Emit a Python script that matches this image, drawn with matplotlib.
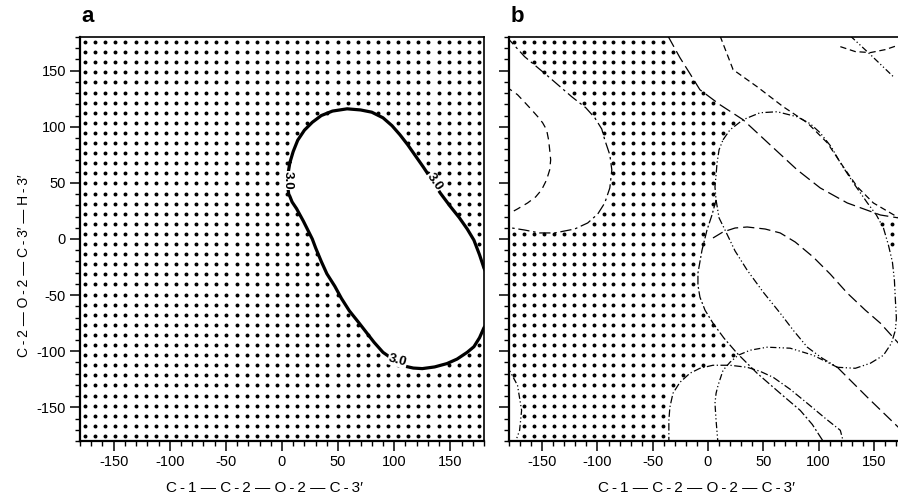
import numpy as np
import matplotlib
matplotlib.use('Agg')
import matplotlib.pyplot as plt
from matplotlib.path import Path
from matplotlib.ticker import MultipleLocator

plt.rcParams['font.family'] = ['Liberation Sans', 'DejaVu Sans']
plt.rcParams['axes.unicode_minus'] = False

# sampled torsion grid (9 degree step)
grid_vals = np.arange(-175.5, 180, 9.0)

# panel a: 3.0 contour
a_x = [7, 10, 14, 20, 27, 35, 45, 58, 70, 80, 90, 98, 105, 112, 119, 126, 134, 141, 150, 158, 165, 171,
       176, 180, 184, 195, 195, 184, 180, 176, 171, 165, 156, 147, 136, 125, 117, 108, 100, 90, 82, 75,
       68, 60, 53, 47, 40, 35, 30, 27, 25, 19, 13, 9, 7, 6, 5, 5, 6, 7]
a_y = [68, 78, 88, 97, 104, 110, 114, 116, 115, 113, 108, 101, 93, 84, 74, 64, 52, 41, 29, 19, 9, -1,
       -14, -26, -34, -40, -65, -74, -79, -88, -96, -101, -107, -111, -114, -115.5, -115, -113, -108, -101, -92, -83,
       -74, -64, -53, -42, -31, -20, -8, 0, 4, 16, 27, 33, 38, 40, 47, 56, 62, 68]
a_label_x = [5, 136, 103]
a_label_y = [52, 51, -108]
a_label_rot = [-90, -55, -15]

# panel b contours
b_outer_x = [-183, -165.9, -144.2, -123.3, -110.6, -102.4, -96.1, -93.4, -88.8, -87.0, -88.8, -93.4, -99.7,
             -108.8, -120.6, -138.7, -152.3, -165.9, -183]
b_outer_y = [181, 162.5, 144.6, 126.8, 117, 108, 98, 88.4, 75, 61.6, 45.5, 32.1, 22.3,
             14.3, 8.9, 5.4, 5.4, 8, 10.7]
b_inner_x = [-183, -172.3, -166, -159.6, -154, -149.6, -146, -144.2, -143.2, -142.3, -143.2, -146, -150.5,
             -155.9, -163.2, -172.3, -183]
b_inner_y = [136, 128.6, 122, 115.2, 109, 103.6, 97.3, 88.4, 79.5, 70.5, 61.6, 52.7, 43.8,
             37.5, 32.1, 26.8, 21]
b_diag1_x = [-36.3, -25.4, -16.3, -7.3, 10.9, 31.7, 56.2, 80.7, 101.5, 126, 155.9, 172.3, 185]
b_diag1_y = [181, 161.6, 147.3, 133, 119.6, 106.3, 83.9, 61.6, 45.5, 32.1, 21.4, 18.8, 17.5]
b_diag2_x = [10.9, 22.7, 44.4, 68, 89.8, 107.9, 122.4, 135.1, 149.6, 171.3, 185]
b_diag2_y = [181, 150.9, 135.7, 117.9, 103.6, 85.7, 64.3, 46.4, 32.1, 19.6, 13]
b_oval_x = [13.6, 19.9, 31.7, 47.1, 62.6, 80.7, 92.5, 101.5, 111.5, 119.7, 131.5, 144.2, 152.3, 158.7,
            163.2, 166.8, 168.6, 169.5, 170.4, 169.5, 165.9, 158.7, 146.9, 133.3, 117, 103.4, 89.8, 77.1,
            65.3, 49.9, 35.4, 24.5, 15.4, 10, 7.3, 6.3, 7.3, 8.2, 10, 13.6]
b_oval_y = [88.4, 97.3, 106.3, 112.5, 113.4, 108.9, 102.7, 94.6, 82.1, 67.9, 50, 32.1, 21.4, 9.8,
            -5.4, -20.5, -36.6, -54.5, -70.5, -81.3, -92.9, -103.6, -110.7, -115.2, -114.3, -106.3, -96.4, -81.3,
            -66.1, -47.3, -27.7, -10.7, 8, 18.8, 34.8, 46.4, 57.1, 67.9, 79.5, 88.4]
b_loop_x = [7.3, 3.6, -0.9, -5.4, -9.1, -9.1, -7.3, -2.7, 4.5, 14.5, 26.3, 44.4, 65.3, 83.4, 94.3, 106]
b_loop_y = [34.8, 21.4, 8, -9.8, -30.4, -41.1, -51.8, -63.4, -75, -88.4, -101.8, -119.6, -137.5, -152.7,
            -165.2, -183]
b_arch1_x = [-35.4, -35.4, -34.5, -31.7, -25.4, -16.3, -7.3, 4.5, 19.9, 35.4, 47.1, 58.9, 74.3, 89.8,
             106.1, 119.7, 123]
b_arch1_y = [-183, -161.6, -150, -137.5, -127.7, -119.6, -115.2, -112.5, -112.5, -114.3, -117.9, -123.2,
             -133.9, -146.4, -159.8, -170.5, -183]
b_arch2_x = [9.1, 7.3, 6.3, 7.3, 9.1, 13.6, 19.9, 27.2, 38.1, 53.5, 74.3, 95.2, 117]
b_arch2_y = [-183, -161.6, -146.4, -137.5, -130.4, -117, -109.8, -103.6, -99.1, -96.4, -97.3, -103.6, -114.3]
b_arc_x = [4.5, 13.6, 24.5, 35.4, 51.7, 65.3, 78.9, 95.2, 110.6, 126, 142.3, 155.9, 172.3, 185]
b_arc_y = [0.9, 6.3, 9.8, 10.7, 8.9, 5.4, -2.7, -16.1, -31.3, -48.2, -63.4, -75, -92.9, -105]
b_tail_x = [117, 144.2, 172.3, 185]
b_tail_y = [-114.3, -141.1, -167.9, -180]
b_corner_x = [-183, -172.3, -168.6, -170.4, -175]
b_corner_y = [-110.7, -130.4, -152.7, -170.5, -183]
b_tr_arc_x = [119.7, 133.2, 146.9, 160.5, 185]
b_tr_arc_y = [171.4, 167, 166.1, 168.8, 177]
b_tr_line_x = [128.7, 146.9, 167.7]
b_tr_line_y = [181, 164.3, 144.6]

# dotted (allowed) regions of panel b
b_allow_x = [-185, -38, -25.4, -16.3, -7.3, 10.9, 31.7, 13.6, 8.2, 6.3, 7.3, 3.6, -0.9, -5.4, -9.1, -9.1,
             -7.3, -2.7, 4.5, 14.5, 26.3, 13.6, 4.5, -16.3, -25.4, -31.7, -34.5, -35.4, -175, -170.4, -168.6,
             -172.3, -180.4, -185, -180, -165.9, -152.3, -138.7, -120.6, -108.8, -99.7, -93.4, -88.8, -87,
             -88.8, -93.4, -102.4, -110.6, -123.3, -144.2, -165.9, -180, -185]
b_allow_y = [185, 185, 161.6, 147.3, 133, 119.6, 106.3, 88.4, 67.9, 46.4, 34.8, 21.4, 8, -9.8, -30.4, -41.1,
             -51.8, -63.4, -75, -88.4, -101.8, -110, -112.5, -119.6, -127.7, -137.5, -150, -185, -185, -170.5,
             -152.7, -130.4, -110.7, -110.7, 10.7, 8, 5.4, 5.4, 8.9, 14.3, 22.3, 32.1, 45.5, 61.6,
             75, 88.4, 108, 117, 126.8, 144.6, 162.5, 177.7, 185]
b_edge_x = [150, 185, 185, 166, 160, 154]
b_edge_y = [21, 17, -9, -9, 2, 14]

b_curves = [
    (b_outer_x, b_outer_y, (0, (9, 3, 2, 3))),
    (b_inner_x, b_inner_y, (0, (6, 4))),
    (b_diag1_x, b_diag1_y, (0, (10, 4))),
    (b_diag2_x, b_diag2_y, (0, (5, 3))),
    (b_oval_x, b_oval_y, (0, (6, 2, 1, 2, 1, 2))),
    (b_loop_x, b_loop_y, (0, (7, 2, 1.5, 2))),
    (b_arch1_x, b_arch1_y, (0, (6, 2, 1, 2))),
    (b_arch2_x, b_arch2_y, (0, (5, 2, 1, 2, 1, 2))),
    (b_arc_x, b_arc_y, (0, (9, 4))),
    (b_tail_x, b_tail_y, (0, (9, 4))),
    (b_corner_x, b_corner_y, (0, (5, 2, 1, 2, 1, 2))),
    (b_tr_arc_x, b_tr_arc_y, (0, (5, 3))),
    (b_tr_line_x, b_tr_line_y, (0, (5, 2, 1, 2, 1, 2))),
]

fig = plt.figure(figsize=(8.98, 4.96), dpi=100)
ax_a = fig.add_axes([80 / 898, 1 - 441 / 496, 404 / 898, 404 / 496])
ax_b = fig.add_axes([509 / 898, 1 - 441 / 496, 398 / 898, 404 / 496])

gx, gy = np.meshgrid(grid_vals, grid_vals)
pts = np.column_stack([gx.ravel(), gy.ravel()])

# panel a dots: outside the contour
inside_a = Path(np.column_stack([a_x, a_y])).contains_points(pts)
ax_a.scatter(pts[~inside_a, 0], pts[~inside_a, 1], s=8, c='black', linewidths=0)
ax_a.plot(a_x, a_y, color='black', lw=2.3, solid_joinstyle='round', solid_capstyle='round')
for x, y, r in zip(a_label_x, a_label_y, a_label_rot):
    ax_a.text(x, y, '3.0', rotation=r, ha='center', va='center', fontsize=9.5, fontweight='bold',
              bbox=dict(fc='white', ec='none', pad=0.4))

# panel b dots
keep_b = (Path(np.column_stack([b_allow_x, b_allow_y])).contains_points(pts) |
          Path(np.column_stack([b_edge_x, b_edge_y])).contains_points(pts))
ax_b.scatter(pts[keep_b, 0], pts[keep_b, 1], s=8, c='black', linewidths=0)
for cx, cy, ls in b_curves:
    ax_b.plot(cx, cy, color='black', lw=0.9, linestyle=ls)

xlabel = 'C\u2009-\u20091 — C\u2009-\u20092 — O\u2009-\u20092 — C\u2009-\u20093′'
for ax in (ax_a, ax_b):
    ax.set_xlim(-180, 180)
    ax.set_ylim(-180, 180)
    ax.xaxis.set_major_locator(MultipleLocator(50))
    ax.xaxis.set_minor_locator(MultipleLocator(10))
    ax.yaxis.set_major_locator(MultipleLocator(50))
    ax.yaxis.set_minor_locator(MultipleLocator(10))
    ax.tick_params(which='major', direction='out', length=7, width=1.1, labelsize=10.5, pad=3)
    ax.tick_params(which='minor', direction='out', length=3.5, width=1.0)
    for side in ('left', 'bottom'):
        ax.spines[side].set_linewidth(1.6)
    for side in ('top', 'right'):
        ax.spines[side].set_linewidth(1.2)
    ax.set_xlabel(xlabel, fontsize=11)

ax_a.xaxis.set_label_coords((265 - 80) / 404, (441 - 481) / 404)
ax_b.xaxis.set_label_coords((696 - 509) / 398, (441 - 481) / 404)
ax_a.set_ylabel('C\u2009-\u20092 — O\u2009-\u20092 — C\u2009-\u20093′ — H\u2009-\u20093′', fontsize=10)
ax_a.yaxis.set_label_coords((31 - 80) / 404, (441 - 266) / 404)
ax_b.tick_params(axis='y', labelleft=False)

fig.text(88 / 898, 1 - 16 / 496, 'a', fontsize=16, fontweight='bold', ha='center', va='center')
fig.text(517 / 898, 1 - 16 / 496, 'b', fontsize=16, fontweight='bold', ha='center', va='center')

fig.savefig('out.png', dpi=100)
